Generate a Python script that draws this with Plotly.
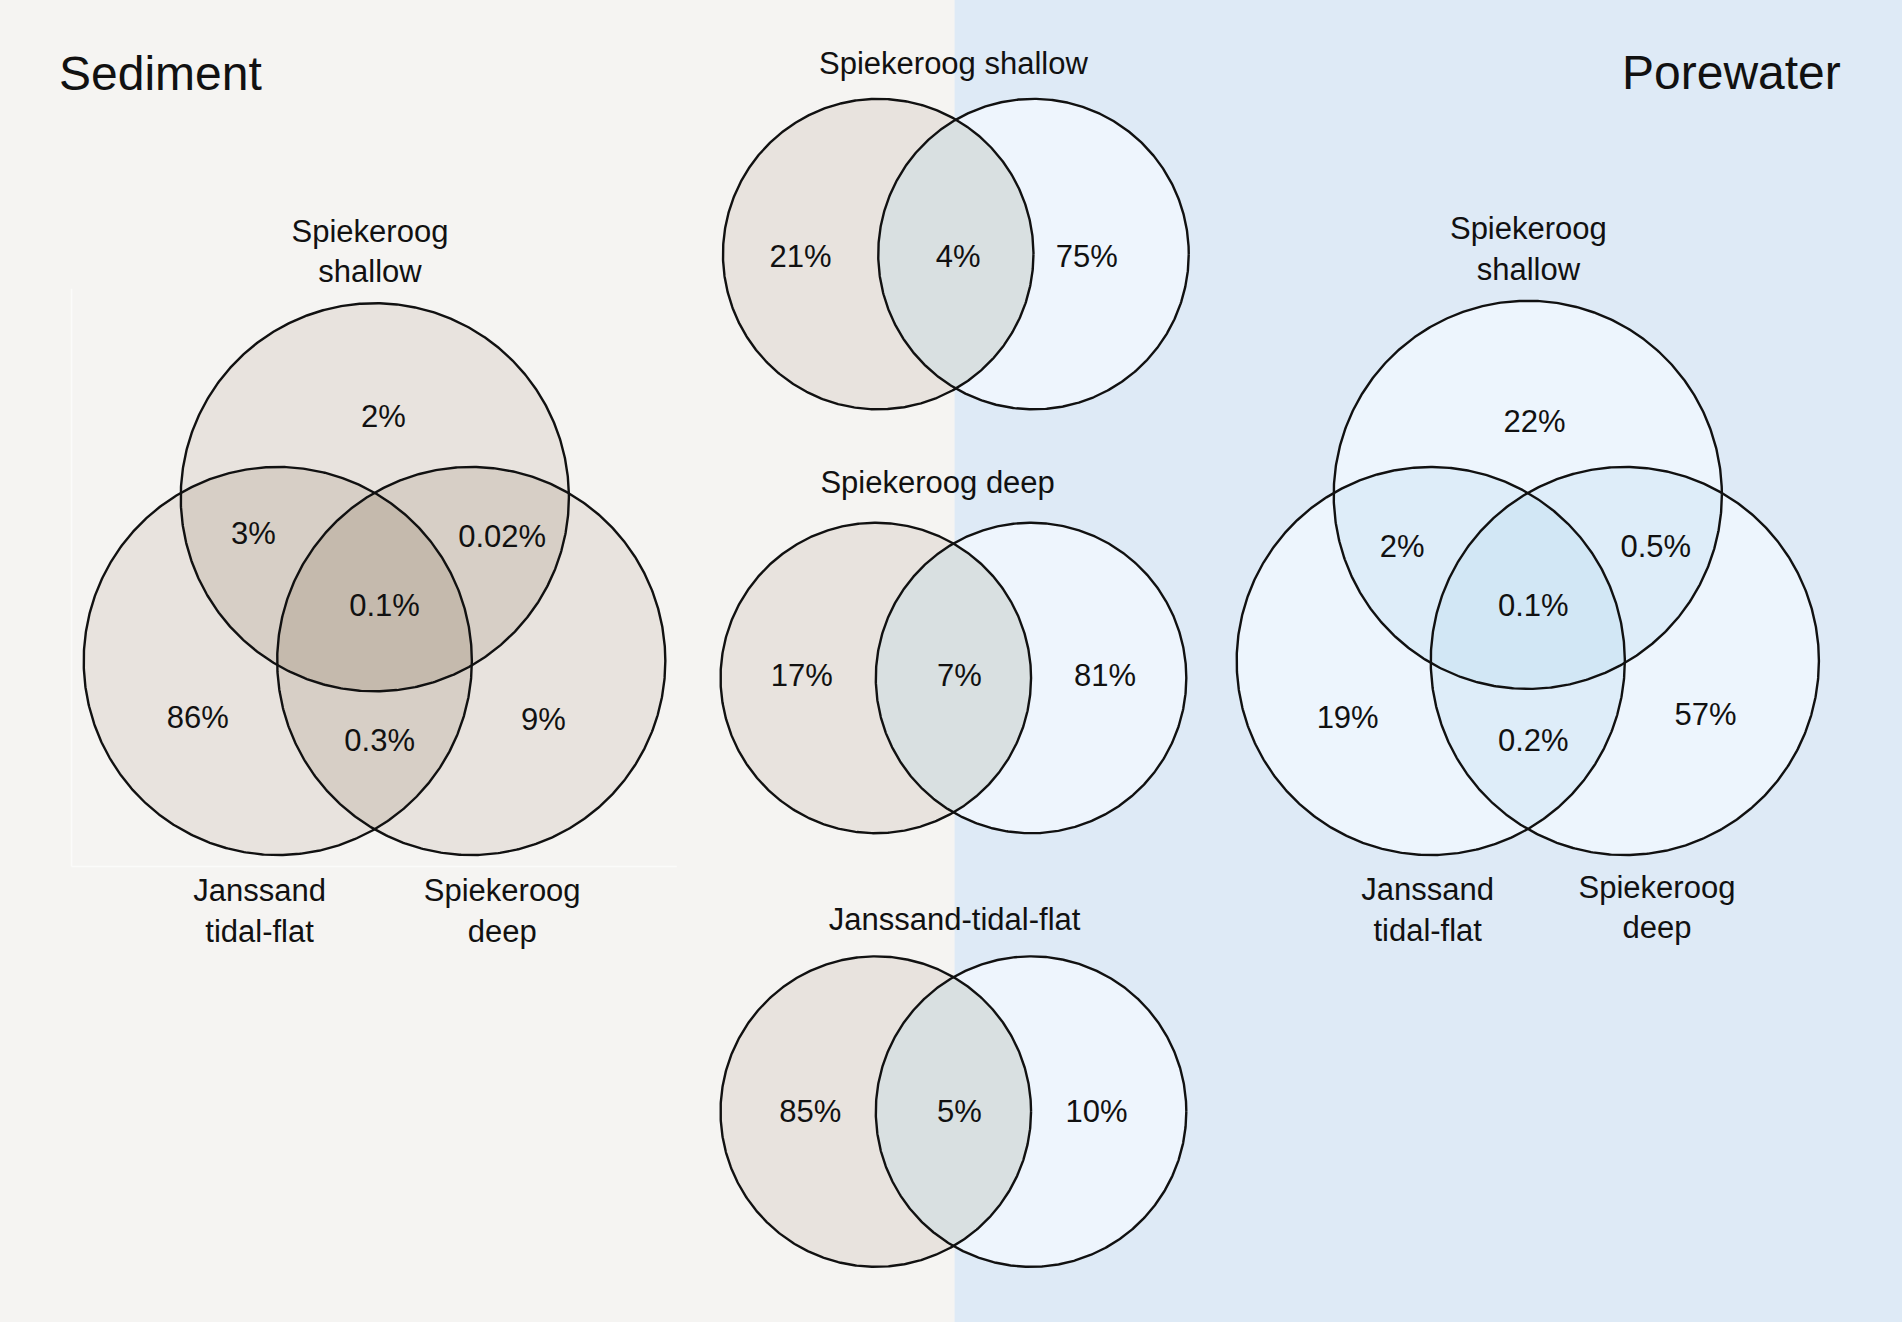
import numpy as np
import plotly.graph_objects as go

# ---------------- data ----------------
sediment_sets = ["Spiekeroog<br>shallow", "Janssand<br>tidal-flat", "Spiekeroog<br>deep"]
# region order: A only, A&B, A&C, A&B&C, B only, B&C, C only
sediment_values = ["2%", "3%", "0.02%", "0.1%", "86%", "0.3%", "9%"]

porewater_sets = ["Spiekeroog<br>shallow", "Janssand<br>tidal-flat", "Spiekeroog<br>deep"]
porewater_values = ["22%", "2%", "0.5%", "0.1%", "19%", "0.2%", "57%"]

pair_titles = ["Spiekeroog shallow", "Spiekeroog deep", "Janssand-tidal-flat"]
pair_sediment_only = ["21%", "17%", "85%"]
pair_shared = ["4%", "7%", "5%"]
pair_porewater_only = ["75%", "81%", "10%"]

panel_titles = ["Sediment", "Porewater"]

# ---------------- layout / style ----------------
W, H = 1568, 1090          # reference drawing units
FONT = "Liberation Sans, Arial, sans-serif"
BG_SED = "#f5f4f2"
BG_PORE = "#deeaf6"
SED = ["#e8e3de", "#d7cfc6", "#c5baad"]
PORE = ["#edf5fd", "#deedf9", "#d2e7f5"]
MID = ["#e8e3de", "#eef5fd", "#d9e0e1"]
LINE = "#111111"
LW = 2.4
DY = 2.5   # vertical text nudge


def circle_poly(cx, cy, r, n=720):
    t = np.linspace(0, 2 * np.pi, n, endpoint=False)
    return np.column_stack([cx + r * np.cos(t), cy + r * np.sin(t)])


def clip(subject, cx, cy, r, n=720):
    """Clip a convex polygon by a circle (approximated as polygon)."""
    clipper = circle_poly(cx, cy, r, n)
    out = list(map(tuple, subject))
    m = len(clipper)
    for i in range(m):
        a = clipper[i]
        b = clipper[(i + 1) % m]
        inp = out
        out = []
        if not inp:
            break

        def inside(p):
            return (b[0] - a[0]) * (p[1] - a[1]) - (b[1] - a[1]) * (p[0] - a[0]) >= 0

        def inter(p, q):
            x1, y1 = p; x2, y2 = q; x3, y3 = a; x4, y4 = b
            den = (x1 - x2) * (y3 - y4) - (y1 - y2) * (x3 - x4)
            tt = ((x1 - x3) * (y3 - y4) - (y1 - y3) * (x3 - x4)) / den
            return (x1 + tt * (x2 - x1), y1 + tt * (y2 - y1))

        s = inp[-1]
        for e in inp:
            if inside(e):
                if not inside(s):
                    out.append(inter(s, e))
                out.append(e)
            elif inside(s):
                out.append(inter(s, e))
            s = e
    return np.array(out)


traces = []


def fill(poly, color):
    xs = list(poly[:, 0]) + [poly[0, 0]]
    ys = list(poly[:, 1]) + [poly[0, 1]]
    traces.append(go.Scatter(x=xs, y=ys, mode="lines", fill="toself",
                             fillcolor=color, line=dict(width=0, color=color),
                             hoverinfo="skip", showlegend=False))


def outline(c):
    p = circle_poly(*c)
    xs = list(p[:, 0]) + [p[0, 0]]
    ys = list(p[:, 1]) + [p[0, 1]]
    traces.append(go.Scatter(x=xs, y=ys, mode="lines",
                             line=dict(width=LW, color=LINE),
                             hoverinfo="skip", showlegend=False))


def venn3(circles, colors):
    A, B, C = circles
    for c in circles:
        fill(circle_poly(*c), colors[0])
    for (p, q) in [(A, B), (A, C), (B, C)]:
        fill(clip(circle_poly(*p), *q), colors[1])
    fill(clip(clip(circle_poly(*A), *B), *C), colors[2])
    for c in circles:
        outline(c)


def venn2(circles, colors):
    L, R = circles
    fill(circle_poly(*L), colors[0])
    fill(circle_poly(*R), colors[1])
    fill(clip(circle_poly(*L), *R), colors[2])
    for c in circles:
        outline(c)


def texts(xy, labels, size=31):
    traces.append(go.Scatter(x=[p[0] for p in xy], y=[p[1] + DY for p in xy],
                             mode="text", text=labels,
                             textposition="middle center",
                             textfont=dict(family=FONT, size=size, color="#111111"),
                             hoverinfo="skip", showlegend=False))


# sediment 3-set venn
sed_circles = [(309, 410, 160), (229, 545, 160), (388.5, 545, 160)]
venn3(sed_circles, SED)
sed_text_xy = [(316, 343), (209, 440), (414, 442), (317, 499), (163, 591), (313, 610), (448, 593)]
texts(sed_text_xy, sediment_values)
texts([(305, 207), (214, 751), (414, 751)], sediment_sets)

# porewater 3-set venn
pore_circles = [(1259.5, 408, 160), (1179.5, 545, 160), (1339.5, 545, 160)]
venn3(pore_circles, PORE)
pore_text_xy = [(1265, 347), (1156, 450), (1365, 450), (1264, 499), (1111, 591), (1264, 610), (1406, 589)]
texts(pore_text_xy, porewater_values)
texts([(1260, 205), (1177, 750), (1366, 748)], porewater_sets)

# middle 2-set venns
pair_circles = [[(724, 209.5, 128), (852, 209.5, 128)],
                [(722, 559, 128), (850, 559, 128)],
                [(722, 916.5, 128), (850, 916.5, 128)]]
pair_title_xy = [(786, 52), (773, 398), (787, 758)]
pair_text_xy = [[(660, 211), (790, 211), (896, 211)],
                [(661, 557), (791, 557), (911, 557)],
                [(668, 916), (791, 916), (904, 916)]]
for i in range(3):
    venn2(pair_circles[i], MID)
    texts(pair_text_xy[i], [pair_sediment_only[i], pair_shared[i], pair_porewater_only[i]])
texts(pair_title_xy, pair_titles, size=31)

fig = go.Figure(traces)

shapes = [
    dict(type="rect", xref="x", yref="y", x0=0, x1=787, y0=0, y1=H,
         fillcolor=BG_SED, line=dict(width=0), layer="below"),
    dict(type="rect", xref="x", yref="y", x0=787, x1=W, y0=0, y1=H,
         fillcolor=BG_PORE, line=dict(width=0), layer="below"),
    dict(type="line", xref="x", yref="y", x0=59, x1=59, y0=238, y1=714.5,
         line=dict(color="#fbfbfa", width=1.5), layer="below"),
    dict(type="line", xref="x", yref="y", x0=59, x1=558, y0=714.5, y1=714.5,
         line=dict(color="#fbfbfa", width=1.5), layer="below"),
]

annotations = [
    dict(x=47, y=61, xref="x", yref="y", text=panel_titles[0], showarrow=False,
         xanchor="left", yanchor="middle", font=dict(family=FONT, size=48, color="#111111")),
    dict(x=1519, y=60, xref="x", yref="y", text=panel_titles[1], showarrow=False,
         xanchor="right", yanchor="middle", font=dict(family=FONT, size=48, color="#111111")),
]

fig.update_layout(
    width=1902, height=1322,
    margin=dict(l=0, r=0, t=0, b=0),
    paper_bgcolor=BG_SED, plot_bgcolor=BG_SED,
    xaxis=dict(range=[0, W], visible=False, fixedrange=True),
    yaxis=dict(range=[H, 0], visible=False, fixedrange=True),
    shapes=shapes, annotations=annotations,
    showlegend=False,
)

fig.write_html("out.html", config={"displayModeBar": False},
               post_script="document.body.style.margin='0';document.body.style.overflow='hidden';")
